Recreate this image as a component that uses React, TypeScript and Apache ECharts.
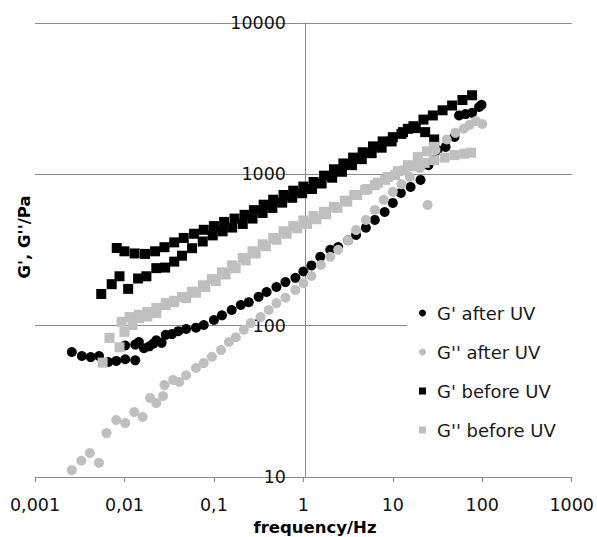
import React, { useEffect, useRef } from "react";
import * as echarts from "echarts";

const xTickLabels = ["0,001", "0,01", "0,1", "1", "10", "100", "1000"];
const yTickLabels = ["10", "100", "1000", "10000"];
const seriesNames = ["G' after UV", "G'' after UV", "G' before UV", "G'' before UV"];

// G' after UV (black circles): [frequency Hz, Pa]
const gpAfterUV: number[][] = [
  [0.00258, 67], [0.00334, 63], [0.0042, 62], [0.0052, 63], [0.0066, 57.5], [0.0081, 58.5], [0.0102, 60], [0.0132, 59],
  [0.0102, 74], [0.0132, 75], [0.0145, 78], [0.0165, 71], [0.019, 73], [0.021, 76], [0.0227, 80], [0.026, 77],
  [0.029, 87], [0.034, 88], [0.04, 92], [0.0489, 95], [0.063, 97], [0.077, 101], [0.1, 109], [0.123, 117],
  [0.158, 127], [0.2, 137], [0.245, 143], [0.316, 155], [0.388, 167], [0.5, 180], [0.63, 194], [0.815, 207],
  [1.0, 228], [1.23, 250], [1.545, 285], [2.0, 317], [2.45, 331], [3.16, 367], [3.88, 398], [5.0, 444],
  [6.3, 500], [8.1, 564], [10, 647], [12.3, 754], [15.8, 826], [20.4, 919], [25, 1150], [29, 1250],
  [31.6, 1449], [38.9, 1518], [48.9, 1766], [55, 2450], [65, 2500], [77, 2550], [92, 2786], [98, 2880],
];

// G'' after UV (grey circles)
const gppAfterUV: number[][] = [
  [0.00258, 11.1], [0.0033, 12.8], [0.0041, 14.4], [0.0052, 12.4], [0.0063, 19.5], [0.0081, 23.8], [0.0102, 22.7],
  [0.0129, 26.9], [0.016, 24.9], [0.0193, 33.3], [0.0227, 30.8], [0.027, 34.3], [0.028, 40.5], [0.035, 43.8],
  [0.041, 42.5], [0.0489, 47], [0.063, 52.5], [0.077, 56.6], [0.095, 62.3], [0.12, 69], [0.147, 78], [0.176, 84],
  [0.216, 94], [0.258, 104], [0.333, 114], [0.41, 127], [0.5, 141], [0.63, 153], [0.815, 172], [1.0, 191],
  [1.23, 213], [1.57, 252], [2.0, 285], [2.45, 317], [3.16, 367], [3.88, 428], [5.0, 500], [6.3, 582],
  [7.9, 678], [10, 766], [12.5, 860], [15.5, 960], [20, 1100], [24.5, 628], [30, 1450], [40, 1700],
  [50, 1880], [62, 2000], [72, 2120], [85, 2250], [100, 2150],
];

// G' before UV (black squares)
const gpBeforeUV: number[][] = [
  [0.0082, 326], [0.01, 310], [0.013, 300], [0.017, 298], [0.022, 310], [0.028, 330], [0.036, 355], [0.046, 380],
  [0.06, 405], [0.077, 430], [0.1, 455], [0.13, 485], [0.17, 510], [0.22, 540], [0.28, 580], [0.36, 630],
  [0.46, 680], [0.6, 730], [0.77, 780], [1.0, 830], [1.3, 890], [1.7, 980], [2.2, 1080], [2.8, 1180],
  [3.6, 1290], [4.6, 1400], [6.0, 1530], [7.7, 1650], [10, 1760], [13, 1900], [17, 2080], [22, 2300],
  [28, 2450], [36, 2650], [46, 2850], [60, 3100], [77, 3330],
  [0.0055, 162], [0.0072, 188], [0.0088, 212], [0.011, 175], [0.0142, 205], [0.0176, 212], [0.0227, 240],
  [0.0285, 242], [0.036, 265], [0.044, 290], [0.057, 325], [0.075, 360], [0.097, 395], [0.125, 420],
  [0.16, 445], [0.21, 470], [0.27, 510], [0.35, 555], [0.45, 600], [0.58, 650], [0.75, 700], [0.97, 750],
  [1.25, 800], [1.6, 870], [2.1, 950], [2.7, 1040], [3.5, 1150], [4.5, 1260], [5.8, 1380], [7.5, 1500],
  [9.7, 1650], [12.5, 1850], [14.7, 2000], [18, 2020], [23, 1900], [29, 1700],
];

// G'' before UV (grey squares)
const gppBeforeUV: number[][] = [
  [0.0068, 83], [0.0093, 106], [0.0114, 114], [0.0145, 118], [0.018, 123], [0.0227, 131], [0.029, 141],
  [0.036, 146], [0.044, 155], [0.057, 168], [0.075, 185], [0.095, 203], [0.123, 225], [0.16, 250], [0.21, 280],
  [0.27, 310], [0.35, 345], [0.46, 380], [0.6, 420], [0.77, 455], [1.0, 495], [1.3, 530], [1.7, 565],
  [2.2, 610], [2.9, 670], [3.7, 730], [4.9, 790], [6.3, 850], [8.2, 920], [10.6, 990], [13.6, 1060],
  [17.6, 1130], [22.7, 1190], [29, 1240], [38, 1290], [49, 1340], [63, 1370], [75, 1390],
  [0.0057, 57], [0.0088, 72], [0.01, 91], [0.0123, 101], [0.0145, 112], [0.018, 115], [0.0227, 121],
  [0.029, 137], [0.036, 143], [0.049, 152], [0.063, 165], [0.08, 180], [0.105, 197], [0.135, 218],
  [0.175, 240], [0.227, 270], [0.293, 300], [0.38, 335], [0.5, 370], [0.65, 405], [0.85, 440], [1.1, 470],
  [1.4, 505], [1.8, 545], [2.4, 600], [3.1, 660], [4.0, 730], [5.2, 800], [6.8, 880], [8.8, 960],
  [11.4, 1050], [14.7, 1150], [19, 1300], [24, 1420], [29, 1520],
];

const BLACK = "#000000";
const GREY = "#bfbfbf";
const LINE = "#8a8a8a";
const FONT = "DejaVu Sans";

export default function App() {
  const ref = useRef<HTMLDivElement>(null);
  useEffect(() => {
    if (!ref.current) return;
    const chart = echarts.init(ref.current, null, { renderer: "svg" });
    const mk = (name: string, data: number[][], color: string, symbol: string, size: number) => ({
      name,
      type: "scatter",
      data,
      symbol,
      symbolSize: size,
      itemStyle: { color, opacity: 1 },
      emphasis: { disabled: true },
    });
    chart.setOption({
      animation: false,
      backgroundColor: "#ffffff",
      grid: { left: 35, right: 22, top: 23, bottom: 60, containLabel: false },
      xAxis: {
        type: "log",
        logBase: 10,
        min: 0.001,
        max: 1000,
        axisLine: { show: true, lineStyle: { color: LINE, width: 1 } },
        axisTick: { show: true, length: 5, lineStyle: { color: LINE } },
        axisLabel: {
          margin: 19,
          fontFamily: FONT,
          fontSize: 17.5,
          color: "#111",
          formatter: (v: number) => xTickLabels[Math.round(Math.log10(v)) + 3],
        },
        splitLine: { show: false },
      },
      yAxis: {
        type: "log",
        logBase: 10,
        min: 10,
        max: 10000,
        position: "left",
        offset: -270,
        axisLine: { show: true, lineStyle: { color: LINE, width: 1 } },
        axisTick: { show: false },
        axisLabel: {
          margin: 19,
          fontFamily: FONT,
          fontSize: 17.5,
          color: "#111",
          formatter: (v: number) => yTickLabels[Math.round(Math.log10(v)) - 1],
        },
        splitLine: { show: true, lineStyle: { color: LINE, width: 1 } },
      },
      legend: {
        orient: "vertical",
        left: 407,
        top: 290,
        padding: [13, 30, 13, 12],
        backgroundColor: "#ffffff",
        itemWidth: 7,
        itemHeight: 7,
        itemGap: 19,
        textStyle: { fontFamily: FONT, fontSize: 18, color: "#1a1a1a", lineHeight: 20, padding: [0, 0, 0, 6] },
        data: [
          { name: seriesNames[0], icon: "circle" },
          { name: seriesNames[1], icon: "circle" },
          { name: seriesNames[2], icon: "rect" },
          { name: seriesNames[3], icon: "rect" },
        ],
      },
      graphic: [
        {
          type: "text",
          x: 315,
          y: 527,
          style: {
            text: "frequency/Hz",
            fontFamily: FONT,
            fontWeight: "bold",
            fontSize: 16.5,
            fill: "#000",
            textAlign: "center",
            textVerticalAlign: "middle",
          },
        },
        {
          type: "text",
          x: 24,
          y: 237,
          rotation: Math.PI / 2,
          style: {
            text: "G', G''/Pa",
            fontFamily: FONT,
            fontWeight: "bold",
            fontSize: 16.5,
            fill: "#000",
            textAlign: "center",
            textVerticalAlign: "middle",
          },
        },
      ],
      series: [
        mk(seriesNames[0], gpAfterUV, BLACK, "circle", 10),
        mk(seriesNames[1], gppAfterUV, GREY, "circle", 10),
        mk(seriesNames[2], gpBeforeUV, BLACK, "rect", 10),
        mk(seriesNames[3], gppBeforeUV, GREY, "rect", 10),
      ],
    });
    return () => chart.dispose();
  }, []);
  return <div ref={ref} style={{ position: "fixed", left: 0, top: 0, width: 597, height: 537 }} />;
}
